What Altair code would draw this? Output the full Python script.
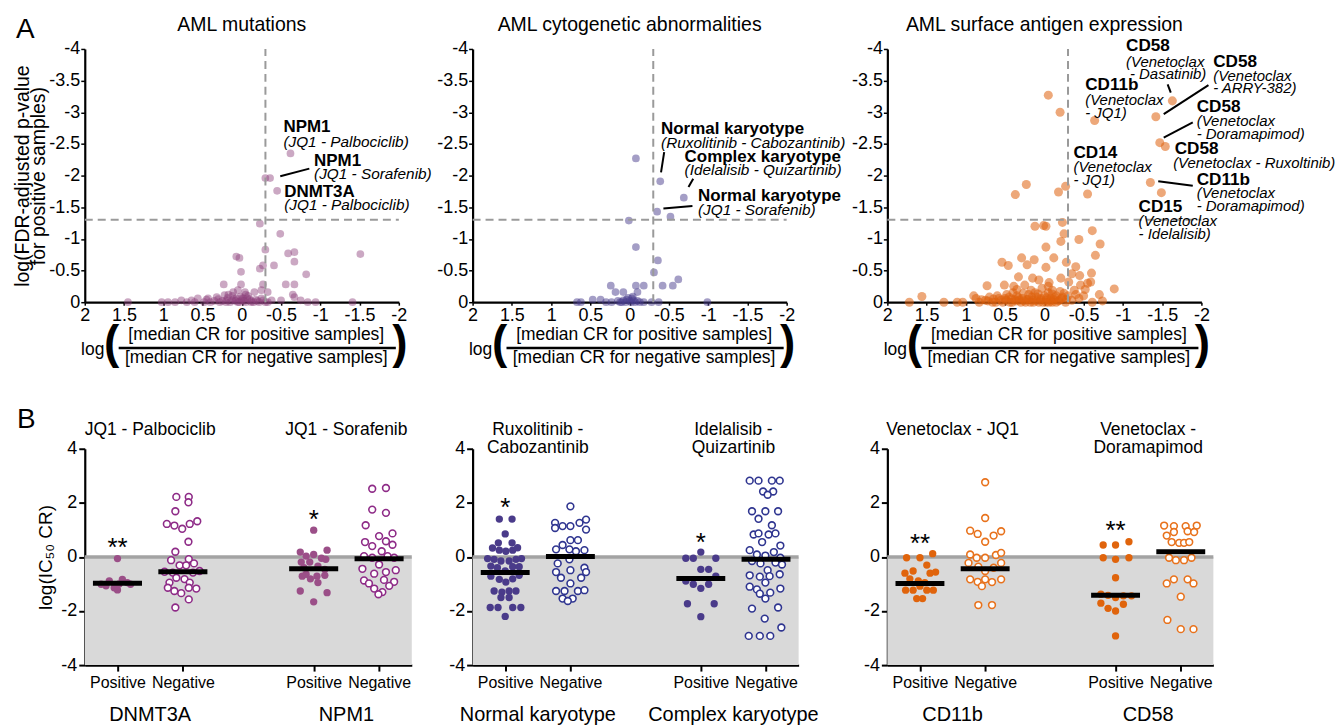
import altair as alt
import pandas as pd

FONT = "Liberation Sans"

# ---------------- Panel A data: (log ratio of median CR, log FDR-adjusted p) ----------------
MUTATION_POINTS = [
    (-0.62, -2.35), (-0.36, -1.96), (-0.30, -1.96), (-0.45, -1.76),
    (-0.23, -1.24), (-0.49, -1.08), (-0.30, -0.83), (0.07, -0.72), (0.03, -0.70), (-0.59, -0.77),
    (-0.67, -0.79), (-0.67, -0.64), (-1.51, -0.76), (0.01, -0.48), (-0.23, -0.53), (-0.27, -0.58),
    (-0.41, -0.58), (-0.82, -0.44), (0.23, -0.28), (0.01, -0.28), (-0.27, -0.28), (-0.56, -0.28),
    (-0.67, -0.28), (0.11, -0.16), (0.05, -0.19), (-0.04, -0.16), (-0.16, -0.16), (-0.25, -0.19),
    (-0.33, -0.16), (0.32, -0.08), (0.22, -0.11), (0.43, -0.06), (0.56, -0.06), (0.64, -0.03),
    (0.77, -0.03), (0.94, 0), (1.02, 0), (1.45, 0), (-0.50, -0.03), (-0.67, -0.08), (-0.75, -0.03),
    (-0.84, 0), (-0.94, 0), (-1.41, 0), (0.35, -0.02), (0.28, 0), (0.20, -0.03), (0.15, 0),
    (0.10, -0.05), (0.05, 0), (0.00, -0.03), (-0.05, 0), (-0.10, -0.05), (-0.15, 0), (-0.20, -0.02),
    (-0.30, 0), (-0.38, -0.03), (0.18, -0.07), (0.02, -0.09), (-0.08, -0.10), (0.85, 0), (0.70, 0),
    (0.60, 0), (0.48, 0), (-0.25, -0.06), (0.08, -0.02), (-0.02, -0.06), (0.12, -0.10),
    (-0.12, -0.02), (-0.65, -0.12),
    (0.45, -0.04), (0.40, 0), (0.30, -0.05), (0.25, -0.02), (0.20, 0), (0.12, -0.03), (0.07, -0.06),
    (0.03, 0), (-0.03, -0.02), (-0.07, -0.06), (-0.12, 0), (-0.18, -0.04), (-0.22, 0), (-0.27, -0.03),
    (-0.33, 0), (0.17, -0.12), (-0.05, -0.12), (0.00, -0.06),
]
CYTO_POINTS = [
    (-0.08, -2.27), (-0.39, -1.91), (-0.69, -1.65), (-0.35, -1.43), (-0.52, -1.35), (0.01, -1.29),
    (-0.08, -0.87), (-0.36, -0.66), (-0.31, -0.47), (-0.62, -0.36), (-0.55, -0.26), (-0.42, -0.26),
    (-0.18, -0.26), (-0.08, -0.26), (0.24, -0.26), (0.18, -0.16), (0.08, -0.16), (-0.10, -0.16),
    (0.67, 0), (0.62, 0), (0.47, -0.04), (0.37, -0.04), (0.30, 0), (0.23, 0), (0.10, 0),
    (0.04, -0.04), (-0.03, -0.06), (-0.07, 0), (-0.13, 0), (-0.18, 0), (-0.28, 0), (-0.37, 0),
    (-0.99, 0), (0.00, -0.02), (0.05, 0), (-0.02, 0), (0.08, -0.03), (-0.05, -0.03), (0.12, 0),
    (0.15, -0.02), (-0.10, -0.02), (0.02, -0.07), (-0.04, -0.09),
]
SURFACE_POINTS = [
    (-0.05, -3.27), (-0.20, -3.00), (-0.64, -2.87), (-1.63, -3.18), (-1.42, -2.93), (-1.47, -2.52),
    (-1.54, -2.46), (-1.35, -1.89), (-1.49, -1.73), (0.23, -1.86), (0.37, -1.70), (-0.18, -1.74),
    (-0.27, -1.83), (-0.55, -1.71),
    (0.12, -1.20), (-0.02, -1.20), (0.01, -1.21), (-0.23, -1.26), (-0.25, -1.08), (-0.21, -0.96),
    (-0.61, -1.13), (-0.44, -0.99), (-0.71, -0.92), (-0.65, -0.74), (-0.02, -0.87), (0.29, -0.70),
    (0.13, -0.67), (-0.12, -0.70), (0.54, -0.63), (0.46, -0.58), (0.22, -0.59), (-0.02, -0.55),
    (-0.28, -0.63), (-0.40, -0.56), (-0.60, -0.46), (-0.89, -0.21), (-0.59, -0.32), (-0.46, -0.27),
    (0.73, -0.26), (0.51, -0.27), (0.39, -0.25), (0.25, -0.27), (0.15, -0.38), (0.07, -0.35),
    (-0.06, -0.31), (-0.21, -0.38), (-0.31, -0.32), (-0.38, -0.19), (-0.55, -0.30), (-0.10, -0.19),
    (0.17, -0.19), (0.03, -0.22),
    (1.72, 0), (1.56, -0.09), (1.28, 0), (1.11, 0), (1.04, 0), (0.87, -0.06), (0.83, 0),
    (0.75, -0.03), (0.66, 0), (0.58, -0.06), (0.49, -0.03), (0.41, 0), (0.32, -0.03), (0.24, 0),
    (0.15, -0.03), (0.07, 0), (-0.02, -0.03), (-0.10, 0), (-0.19, -0.03), (-0.27, 0), (-0.44, -0.06),
    (-0.61, 0), (-0.74, -0.02),
    (0.45, -0.08), (0.35, -0.10), (0.28, -0.06), (0.20, -0.12), (0.10, -0.08), (0.00, -0.10),
    (-0.08, -0.06), (-0.15, -0.10), (-0.22, -0.06), (-0.30, -0.10), (0.40, -0.15), (0.12, -0.15),
    (-0.05, -0.15), (0.60, -0.10), (0.30, 0), (0.18, 0), (0.02, 0), (-0.06, 0), (-0.15, 0),
    (-0.35, -0.03), (0.53, 0), (0.70, -0.08), (-0.50, -0.10), (-0.40, -0.12), (0.90, -0.10),
    (0.05, -0.04), (-0.12, -0.04), (0.22, -0.04), (0.38, -0.04), (-0.25, -0.14), (-0.70, -0.12),
    (-0.52, -0.20), (-0.35, -0.45), (0.33, -0.40), (-0.45, -0.42),
    (0.72, -0.02), (0.65, -0.05), (0.62, 0), (0.55, -0.03), (0.50, -0.06), (0.44, 0), (0.36, -0.02),
    (0.33, -0.07), (0.26, -0.02), (0.20, -0.05), (0.16, -0.08), (0.10, -0.02), (0.04, -0.06),
    (-0.03, -0.07), (-0.08, -0.02), (-0.13, -0.07), (-0.18, -0.02), (-0.23, -0.08), (-0.28, -0.04),
    (0.48, -0.12), (0.27, -0.14), (0.08, -0.13), (-0.10, -0.13), (-0.20, -0.17), (0.35, -0.20),
    (-0.05, -0.25), (0.42, -0.05), (0.14, 0), (-0.02, 0), (0.80, -0.04),
]

# annotations (x, y, text)
MUT_BOLD = [(-0.53, -2.76, "NPM1"), (-0.92, -2.23, "NPM1"), (-0.54, -1.74, "DNMT3A")]
MUT_ITAL = [(-0.53, -2.53, "(JQ1 - Palbociclib)"), (-0.92, -2.03, "(JQ1 - Sorafenib)"),
            (-0.54, -1.53, "(JQ1 - Palbociclib)")]
MUT_LEAD = [(-0.49, -1.99, -0.86, -2.11)]

CYTO_BOLD = [(-0.40, -2.74, "Normal karyotype"), (-0.70, -2.30, "Complex karyotype"),
             (-0.87, -1.67, "Normal karyotype")]
CYTO_ITAL = [(-0.40, -2.51, "(Ruxolitinib - Cabozantinib)"), (-0.70, -2.08, "(Idelalisib - Quizartinib)"),
             (-0.87, -1.45, "(JQ1 - Sorafenib)")]
CYTO_LEAD = [(-0.44, -2.37, -0.40, -2.05), (-0.81, -1.95, -0.75, -1.82), (-0.43, -1.48, -0.80, -1.52)]

SURF_BOLD = [(-1.04, -4.04, "CD58"), (-2.15, -3.80, "CD58"), (-0.52, -3.43, "CD11b"),
             (-1.94, -3.09, "CD58"), (-1.66, -2.42, "CD58"), (-0.37, -2.35, "CD14"),
             (-1.94, -1.93, "CD11b"), (-1.20, -1.50, "CD15")]
SURF_ITAL = [(-1.04, -3.80, "(Venetoclax"), (-1.09, -3.61, "- Dasatinib)"),
             (-2.15, -3.58, "(Venetoclax"), (-2.15, -3.38, "- ARRY-382)"),
             (-0.52, -3.19, "(Venetoclax"), (-0.52, -2.99, "- JQ1)"),
             (-1.94, -2.86, "(Venetoclax"), (-1.94, -2.65, "- Doramapimod)"),
             (-1.64, -2.20, "(Venetoclax - Ruxoltinib)"),
             (-0.37, -2.13, "(Venetoclax"), (-0.37, -1.93, "- JQ1)"),
             (-1.94, -1.72, "(Venetoclax"), (-1.94, -1.52, "- Doramapimod)"),
             (-1.20, -1.28, "(Venetoclax"), (-1.20, -1.08, "- Idelalisib)")]
SURF_LEAD = [(-1.57, -3.44, -1.61, -3.31), (-2.09, -3.43, -1.52, -2.97),
             (-1.89, -2.84, -1.52, -2.60), (-1.45, -1.91, -1.89, -1.84)]

A_TITLES = ["AML mutations", "AML cytogenetic abnormalities", "AML surface antigen expression"]
X_TICKS = [2, 1.5, 1, 0.5, 0, -0.5, -1, -1.5, -2]
Y_TICKS = [0, -0.5, -1, -1.5, -2, -2.5, -3, -3.5, -4]
P_CUT = -1.301
RATIO_CUT = -0.301
NUMER = "[median CR for positive samples]"
DENOM = "[median CR for negative samples]"

# ---------------- Panel B data: (offset from group centre, log IC50 CR) ----------------
DNMT3A_POS = [(0, -0.06), (-0.5, -1.01), (-0.25, -0.89), (0.15, -0.83), (0.3, -0.95), (-0.1, -1.14),
              (0, -1.22), (-0.35, -1.07), (0.4, -1.01), (0.05, -1.0)]
DNMT3A_NEG = [(-0.2, 2.22), (0.18, 2.22), (0.17, 2.02), (-0.23, 1.69), (-0.49, 1.22), (-0.26, 1.16),
              (-0.02, 1.04), (0.21, 1.22), (0.44, 1.32), (0.17, 0.56), (-0.23, 0.19), (-0.36, -0.12),
              (0.18, -0.08), (-0.1, -0.31), (0.1, -0.31), (0.34, -0.24), (-0.56, -0.55), (-0.31, -0.58),
              (0.31, -0.58), (0.51, -0.52), (-0.2, -0.77), (0.05, -0.82), (-0.41, -0.95), (0.21, -0.95),
              (-0.46, -1.14), (-0.26, -1.26), (0.18, -1.14), (0.41, -1.17), (-0.05, -1.34), (0.18, -1.57),
              (-0.23, -1.87)]
NPM1_POS = [(0, 0.99), (-0.41, 0.18), (0.41, 0.25), (0, 0.09), (-0.23, 0.03), (0.24, -0.05), (0.37, -0.09),
            (-0.38, -0.19), (-0.12, -0.19), (0.13, -0.34), (-0.3, -0.4), (0.34, -0.46), (-0.23, -0.64),
            (0.1, -0.71), (0.34, -0.68), (-0.35, -0.71), (-0.1, -0.81), (0.13, -0.95), (-0.41, -1.26),
            (0.41, -1.32), (0, -1.66)]
NPM1_NEG = [(-0.21, 2.52), (0.21, 2.55), (-0.21, 1.75), (0.21, 1.63), (-0.41, 1.17), (0.41, 0.87),
            (-0.43, 0.55), (0, 0.77), (0.21, 0.58), (-0.21, 0.4), (0.41, 0.45), (0.08, 0.21), (-0.46, 0.03),
            (-0.21, -0.03), (0.26, 0.03), (0.46, -0.03), (0, -0.28), (-0.51, -0.44), (0.51, -0.49),
            (-0.15, -0.62), (0.21, -0.56), (-0.46, -0.87), (0.15, -0.85), (-0.31, -0.98), (0.46, -0.92),
            (-0.15, -1.17), (0.31, -1.07), (0.1, -1.3), (-0.02, -1.38)]
NORMAL_POS = [(-0.18, 1.4), (0.21, 1.4), (0, 0.85), (-0.21, 0.52), (0.21, 0.52), (-0.39, 0.33),
              (-0.18, 0.25), (0.02, 0.21), (0.23, 0.25), (0.38, 0.34), (-0.54, -0.06), (-0.34, -0.09),
              (-0.13, -0.15), (0.12, -0.15), (0.33, -0.09), (0.5, -0.06), (-0.44, -0.34), (-0.24, -0.4),
              (0.23, -0.36), (0.43, -0.36), (0, -0.52), (-0.44, -0.71), (-0.18, -0.83), (0.02, -0.93),
              (0.23, -0.81), (0.43, -0.68), (-0.34, -1.26), (-0.1, -1.3), (0.12, -1.26), (0.33, -1.26),
              (-0.13, -1.5), (0.12, -1.5), (-0.46, -1.87), (-0.22, -1.87), (0.23, -1.87), (0.48, -1.87),
              (0, -2.2)]
NORMAL_NEG = [(0, 1.87), (-0.47, 1.26), (-0.24, 1.14), (0, 1.14), (0.28, 1.26), (0.48, 1.38), (0.48, 1.01),
              (-0.47, 1.07), (0, 0.62), (0.23, 0.62), (-0.24, 0.44), (-0.44, 0.28), (-0.03, 0.28),
              (0.43, 0.25), (0.17, 0.21), (-0.39, -0.24), (-0.03, -0.09), (0.43, -0.4), (-0.44, -0.56),
              (0, -0.49), (0.48, -0.56), (-0.29, -0.77), (0.33, -0.77), (0, -0.98), (-0.44, -1.26),
              (-0.18, -1.26), (0.23, -1.26), (0.43, -1.23), (-0.24, -1.54), (0.07, -1.54), (-0.08, -1.63)]
COMPLEX_POS = [(0, 0.18), (-0.46, -0.05), (-0.23, -0.05), (0.46, -0.05), (0, -0.46), (0.24, -0.46),
               (-0.46, -0.89), (-0.23, -1.01), (0.24, -1.01), (0.46, -0.71), (0, -1.16), (-0.41, -1.73),
               (0.41, -1.73), (0, -2.21)]
COMPLEX_NEG = [(-0.5, 2.82), (-0.23, 2.82), (0.18, 2.82), (0.42, 2.82), (-0.09, 2.42), (0.22, 2.42),
               (0.05, 2.3), (-0.43, 1.69), (-0.02, 1.69), (0.37, 1.69), (-0.23, 1.41), (0.18, 1.17),
               (-0.38, 0.83), (-0.23, 0.87), (0.08, 0.83), (0.29, 0.87), (-0.12, 0.55), (0.44, 0.42),
               (-0.5, 0.25), (-0.28, 0.09), (-0.02, 0.05), (0.24, 0.18), (0.44, -0.03), (-0.43, -0.15),
               (-0.17, -0.24), (0.05, -0.49), (0.29, -0.21), (0.49, -0.28), (-0.5, -0.68), (-0.19, -0.73),
               (0.11, -0.71), (0.42, -0.64), (-0.02, -0.95), (-0.5, -1.1), (-0.28, -1.2), (0.13, -1.32),
               (0.44, -1.17), (-0.19, -1.36), (-0.02, -1.54), (-0.43, -1.91), (0.37, -1.87), (-0.04, -2.28),
               (0.47, -2.61), (-0.53, -2.92), (-0.19, -2.92), (0.13, -2.92)]
CD11B_POS = [(-0.41, -0.03), (0, -0.03), (0.39, 0.12), (0.21, -0.3), (-0.46, -0.6), (-0.21, -0.52),
             (0.31, -0.6), (0.48, -0.56), (-0.31, -0.81), (-0.05, -0.89), (0.15, -0.95), (-0.44, -1.23),
             (-0.21, -1.23), (0.21, -1.23), (0.41, -1.23), (0, -1.08), (-0.1, -1.54), (0.08, -1.54)]
CD11B_NEG = [(0, 2.76), (0, 1.44), (-0.46, 0.97), (-0.23, 0.85), (0.26, 0.79), (0.49, 0.95), (0, 0.56),
             (-0.46, 0.09), (-0.26, -0.03), (0, -0.03), (0.33, 0.07), (0.49, 0.15), (-0.51, -0.22),
             (-0.21, -0.36), (0, -0.52), (0.26, -0.4), (0.49, -0.22), (-0.46, -0.83), (-0.23, -0.92),
             (0, -0.83), (0.21, -0.93), (0.49, -0.83), (-0.1, -1.08), (-0.21, -1.78), (0.21, -1.78)]
CD58_POS = [(-0.38, 0.44), (0, 0.44), (0.41, 0.56), (-0.38, -0.03), (0, -0.09), (0.41, -0.03), (0, -0.77),
            (-0.45, -1.38), (-0.23, -1.42), (0, -1.5), (0.24, -1.44), (0.49, -1.44), (-0.45, -1.71),
            (-0.23, -1.9), (0, -2.0), (0.24, -1.75), (0, -2.92)]
CD58_NEG = [(-0.51, 1.16), (-0.21, 1.14), (0.15, 1.14), (0.49, 1.16), (-0.43, 0.79), (-0.21, 0.92),
            (0.21, 0.95), (0.41, 0.92), (-0.28, 0.55), (-0.05, 0.52), (0.1, 0.52), (0.26, 0.55),
            (-0.36, -0.03), (-0.15, -0.12), (0.1, -0.12), (0.33, -0.03), (-0.43, -0.98), (-0.21, -0.83),
            (0.21, -0.83), (0.39, -0.98), (0, -1.47), (-0.41, -2.33), (0, -2.67), (0.39, -2.67)]

# group: name, title lines, positive pts, negative pts, positive median, negative median, stars, star y
B_GROUPS = [
    [("DNMT3A", ["JQ1 - Palbociclib"], DNMT3A_POS, DNMT3A_NEG, -0.97, -0.55, "**", 0.58),
     ("NPM1", ["JQ1 - Sorafenib"], NPM1_POS, NPM1_NEG, -0.44, -0.07, "*", 1.63)],
    [("Normal karyotype", ["Ruxolitinib -", "Cabozantinib"], NORMAL_POS, NORMAL_NEG, -0.58, 0.02, "*", 2.06),
     ("Complex karyotype", ["Idelalisib -", "Quizartinib"], COMPLEX_POS, COMPLEX_NEG, -0.80, -0.09, "*", 0.77)],
    [("CD11b", ["Venetoclax - JQ1"], CD11B_POS, CD11B_NEG, -0.98, -0.44, "**", 0.74),
     ("CD58", ["Venetoclax -", "Doramapimod"], CD58_POS, CD58_NEG, -1.42, 0.19, "**", 1.22)],
]
B_COLORS = [("#9b4f88", "#8e2b87"), ("#4a3b8a", "#2f3590"), ("#e0640c", "#e8721c")]
B_CENTERS = [(1, 3), (7, 9)]

A_COLORS = [("#8c3f7a", 0.45, 60), ("#4a3e8e", 0.5, 60), ("#df600c", 0.55, 82)]

ONE = pd.DataFrame({"d": [0]})


def vtext(text, x, y, size, weight="normal", style="normal", align="center", baseline="middle"):
    return alt.Chart(ONE).mark_text(
        text=text, fontSize=size, fontWeight=weight, fontStyle=style, align=align,
        baseline=baseline, font=FONT, color="black",
    ).encode(x=alt.value(x), y=alt.value(y))


def volcano(points, color, opacity, size, title, bold, ital, lead, idx, w=315, h=254):
    XS = alt.Scale(domain=[2, -2], nice=False, zero=False)
    YS = alt.Scale(domain=[0, -4], nice=False, zero=False)
    xaxis = alt.Axis(values=X_TICKS, labelExpr="'' + datum.value", title="", labelFontSize=18,
                     labelFlush=False, labelOverlap=False, tickSize=3, labelPadding=1,
                     domainWidth=2.2, tickWidth=1.5)
    yargs = dict(values=Y_TICKS, labelExpr="'' + datum.value", labelFontSize=18, labelFlush=False,
                 labelOverlap=False, tickSize=4, labelPadding=1, domainWidth=2.2, tickWidth=1.5)
    if idx == 0:
        yaxis = alt.Axis(title=["log(FDR-adjusted p-value", "for positive samples)"], titleFontSize=19.5,
                         titleFontWeight="normal", titleLineHeight=16, titlePadding=0, **yargs)
    else:
        yaxis = alt.Axis(title="", **yargs)

    def X(f="x"):
        return alt.X(f + ":Q", scale=XS, axis=xaxis)

    def Y(f="y"):
        return alt.Y(f + ":Q", scale=YS, axis=yaxis)

    df = pd.DataFrame(points, columns=["x", "y"])
    pts = alt.Chart(df).mark_circle(size=size, color=color, opacity=opacity).encode(x=X(), y=Y())
    dash = dict(color="#9a9a9a", strokeWidth=2, strokeDash=[8, 5])
    vline = alt.Chart(pd.DataFrame({"x": [RATIO_CUT], "y": [0], "y2": [-4]})).mark_rule(**dash).encode(
        x=X(), y=Y(), y2="y2:Q")
    hline = alt.Chart(pd.DataFrame({"x": [2], "x2": [-2], "y": [P_CUT]})).mark_rule(**dash).encode(
        x=X(), x2="x2:Q", y=Y())
    ldf = pd.DataFrame(lead, columns=["x", "y", "x2", "y2"])
    leaders = alt.Chart(ldf).mark_rule(color="black", strokeWidth=2).encode(
        x=X(), y=Y(), x2="x2:Q", y2="y2:Q")
    bsize, isize = (17, 15.4) if idx < 2 else (17.2, 15)
    bt = alt.Chart(pd.DataFrame(bold, columns=["x", "y", "t"])).mark_text(
        align="left", baseline="middle", fontSize=bsize, fontWeight="bold", font=FONT, color="black").encode(
        x=X(), y=Y(), text="t:N")
    it = alt.Chart(pd.DataFrame(ital, columns=["x", "y", "t"])).mark_text(
        align="left", baseline="middle", fontSize=isize, fontStyle="italic", font=FONT, color="black").encode(
        x=X(), y=Y(), text="t:N")
    layers = [pts, vline, hline, leaders, bt, it,
              vtext(title, w / 2, -18, 19.5, baseline="alphabetic"),
              vtext("log", 8, h + 48, 17.5),
              vtext("(", 27, h + 42, 46, weight="bold"),
              vtext(")", 316, h + 42, 46, weight="bold"),
              vtext(NUMER, 172, h + 33, 17.5),
              vtext(DENOM, 172, h + 56, 17.5),
              alt.Chart(ONE).mark_rule(color="black", strokeWidth=2.5).encode(
                  x=alt.value(34), x2=alt.value(312), y=alt.value(h + 46))]
    if idx == 0:
        layers.append(vtext("A", -69, -11, 28, align="left", baseline="alphabetic"))
    return alt.layer(*layers).properties(width=w, height=h)


def dots(groups, fill_c, open_c, idx, w, h=217):
    XS = alt.Scale(domain=[0, 10], nice=False, zero=False)
    YS = alt.Scale(domain=[-4, 4], nice=False, zero=False)
    xaxis = alt.Axis(values=[1, 3, 7, 9], title="", labelFontSize=16, labelFlush=False, labelOverlap=False,
                     labelExpr="datum.value == 1 || datum.value == 7 ? 'Positive' : 'Negative'",
                     tickSize=6, tickWidth=2, labelPadding=3, domainWidth=2.2)
    yargs = dict(values=[-4, -2, 0, 2, 4], labelExpr="'' + datum.value", labelFontSize=18, labelFlush=False,
                 labelOverlap=False, tickSize=6, tickWidth=2, labelPadding=2, domainWidth=2.2)
    if idx == 0:
        yaxis = alt.Axis(title="log(IC\u2085\u2080 CR)", titleFontSize=19, titleFontWeight="normal",
                         titlePadding=5, **yargs)
    else:
        yaxis = alt.Axis(title="", **yargs)

    def X(f="x"):
        return alt.X(f + ":Q", scale=XS, axis=xaxis)

    def Y(f="y"):
        return alt.Y(f + ":Q", scale=YS, axis=yaxis)

    bg = alt.Chart(pd.DataFrame({"x": [0], "x2": [10], "y": [0], "y2": [-4]})).mark_rect(
        color="#d9d9d9").encode(x=X(), x2="x2:Q", y=Y(), y2="y2:Q")
    zero = alt.Chart(pd.DataFrame({"x": [0], "x2": [10], "y": [0]})).mark_rule(
        color="#a3a3a3", strokeWidth=3.5).encode(x=X(), x2="x2:Q", y=Y())
    pos_rows, neg_rows, med_rows, star_rows, text_layers = [], [], [], [], []
    for (name, tlines, pos, neg, mpos, mneg, star, sy), (cp, cn) in zip(groups, B_CENTERS):
        pos_rows += [(cp + dx, y) for dx, y in pos]
        neg_rows += [(cn + dx, y) for dx, y in neg]
        med_rows += [(cp - 0.75, cp + 0.75, mpos), (cn - 0.75, cn + 0.75, mneg)]
        star_rows.append((cp, sy, star))
        mid = (cp + cn) / 2
        text_layers.append(
            alt.Chart(pd.DataFrame({"x": [mid]})).mark_text(
                text=name, fontSize=20, baseline="alphabetic", font=FONT, color="black").encode(
                x=X(), y=alt.value(h + 56)))
        for k, t in enumerate(tlines):
            text_layers.append(
                alt.Chart(pd.DataFrame({"x": [mid]})).mark_text(
                    text=t, fontSize=17.5, baseline="alphabetic", font=FONT, color="black").encode(
                    x=X(), y=alt.value(-14 + 18 * k)))
    pf = alt.Chart(pd.DataFrame(pos_rows, columns=["x", "y"])).mark_circle(
        size=54, color=fill_c, opacity=1).encode(x=X(), y=Y())
    nf = alt.Chart(pd.DataFrame(neg_rows, columns=["x", "y"])).mark_point(
        shape="circle", size=46, filled=True, fill="white", stroke=open_c, strokeWidth=1.6,
        opacity=1).encode(x=X(), y=Y())
    med = alt.Chart(pd.DataFrame(med_rows, columns=["x", "x2", "y"])).mark_rule(
        color="black", strokeWidth=5).encode(x=X(), x2="x2:Q", y=Y())
    stars = alt.Chart(pd.DataFrame(star_rows, columns=["x", "y", "t"])).mark_text(
        fontSize=26, baseline="middle", dy=7, font=FONT, color="black").encode(x=X(), y=Y(), text="t:N")
    layers = [bg, zero, pf, nf, med, stars] + text_layers
    if idx == 0:
        layers.append(vtext("B", -68, -21, 28, align="left", baseline="alphabetic"))
    return alt.layer(*layers).properties(width=w, height=h)


def spacer(w):
    return alt.Chart(ONE).mark_point(opacity=0).encode(x=alt.value(0), y=alt.value(0)).properties(
        width=w, height=10)


A_DATA = [(MUTATION_POINTS, MUT_BOLD, MUT_ITAL, MUT_LEAD), (CYTO_POINTS, CYTO_BOLD, CYTO_ITAL, CYTO_LEAD),
          (SURFACE_POINTS, SURF_BOLD, SURF_ITAL, SURF_LEAD)]
top = [volcano(p, A_COLORS[i][0], A_COLORS[i][1], A_COLORS[i][2], A_TITLES[i], b, it, ld, i)
       for i, (p, b, it, ld) in enumerate(A_DATA)]
bot = [dots(B_GROUPS[i], B_COLORS[i][0], B_COLORS[i][1], i, 328 if i == 0 else 327) for i in range(3)]

cells = [top[0], spacer(61), top[1], spacer(89), top[2],
         bot[0], spacer(61), bot[1], spacer(89), bot[2]]

chart = alt.concat(*cells, columns=5, spacing={"row": 147, "column": 0}, bounds="flush",
                   align="each").properties(
    padding={"left": 4, "top": 6, "right": 0, "bottom": 0}
).configure_view(strokeWidth=0).configure_axis(
    grid=False, labelFont=FONT, titleFont=FONT, domainColor="black", tickColor="black",
    labelColor="black", titleColor="black"
).configure_text(font=FONT)

chart.save("out.html", embed_options={"renderer": "svg", "actions": False})
